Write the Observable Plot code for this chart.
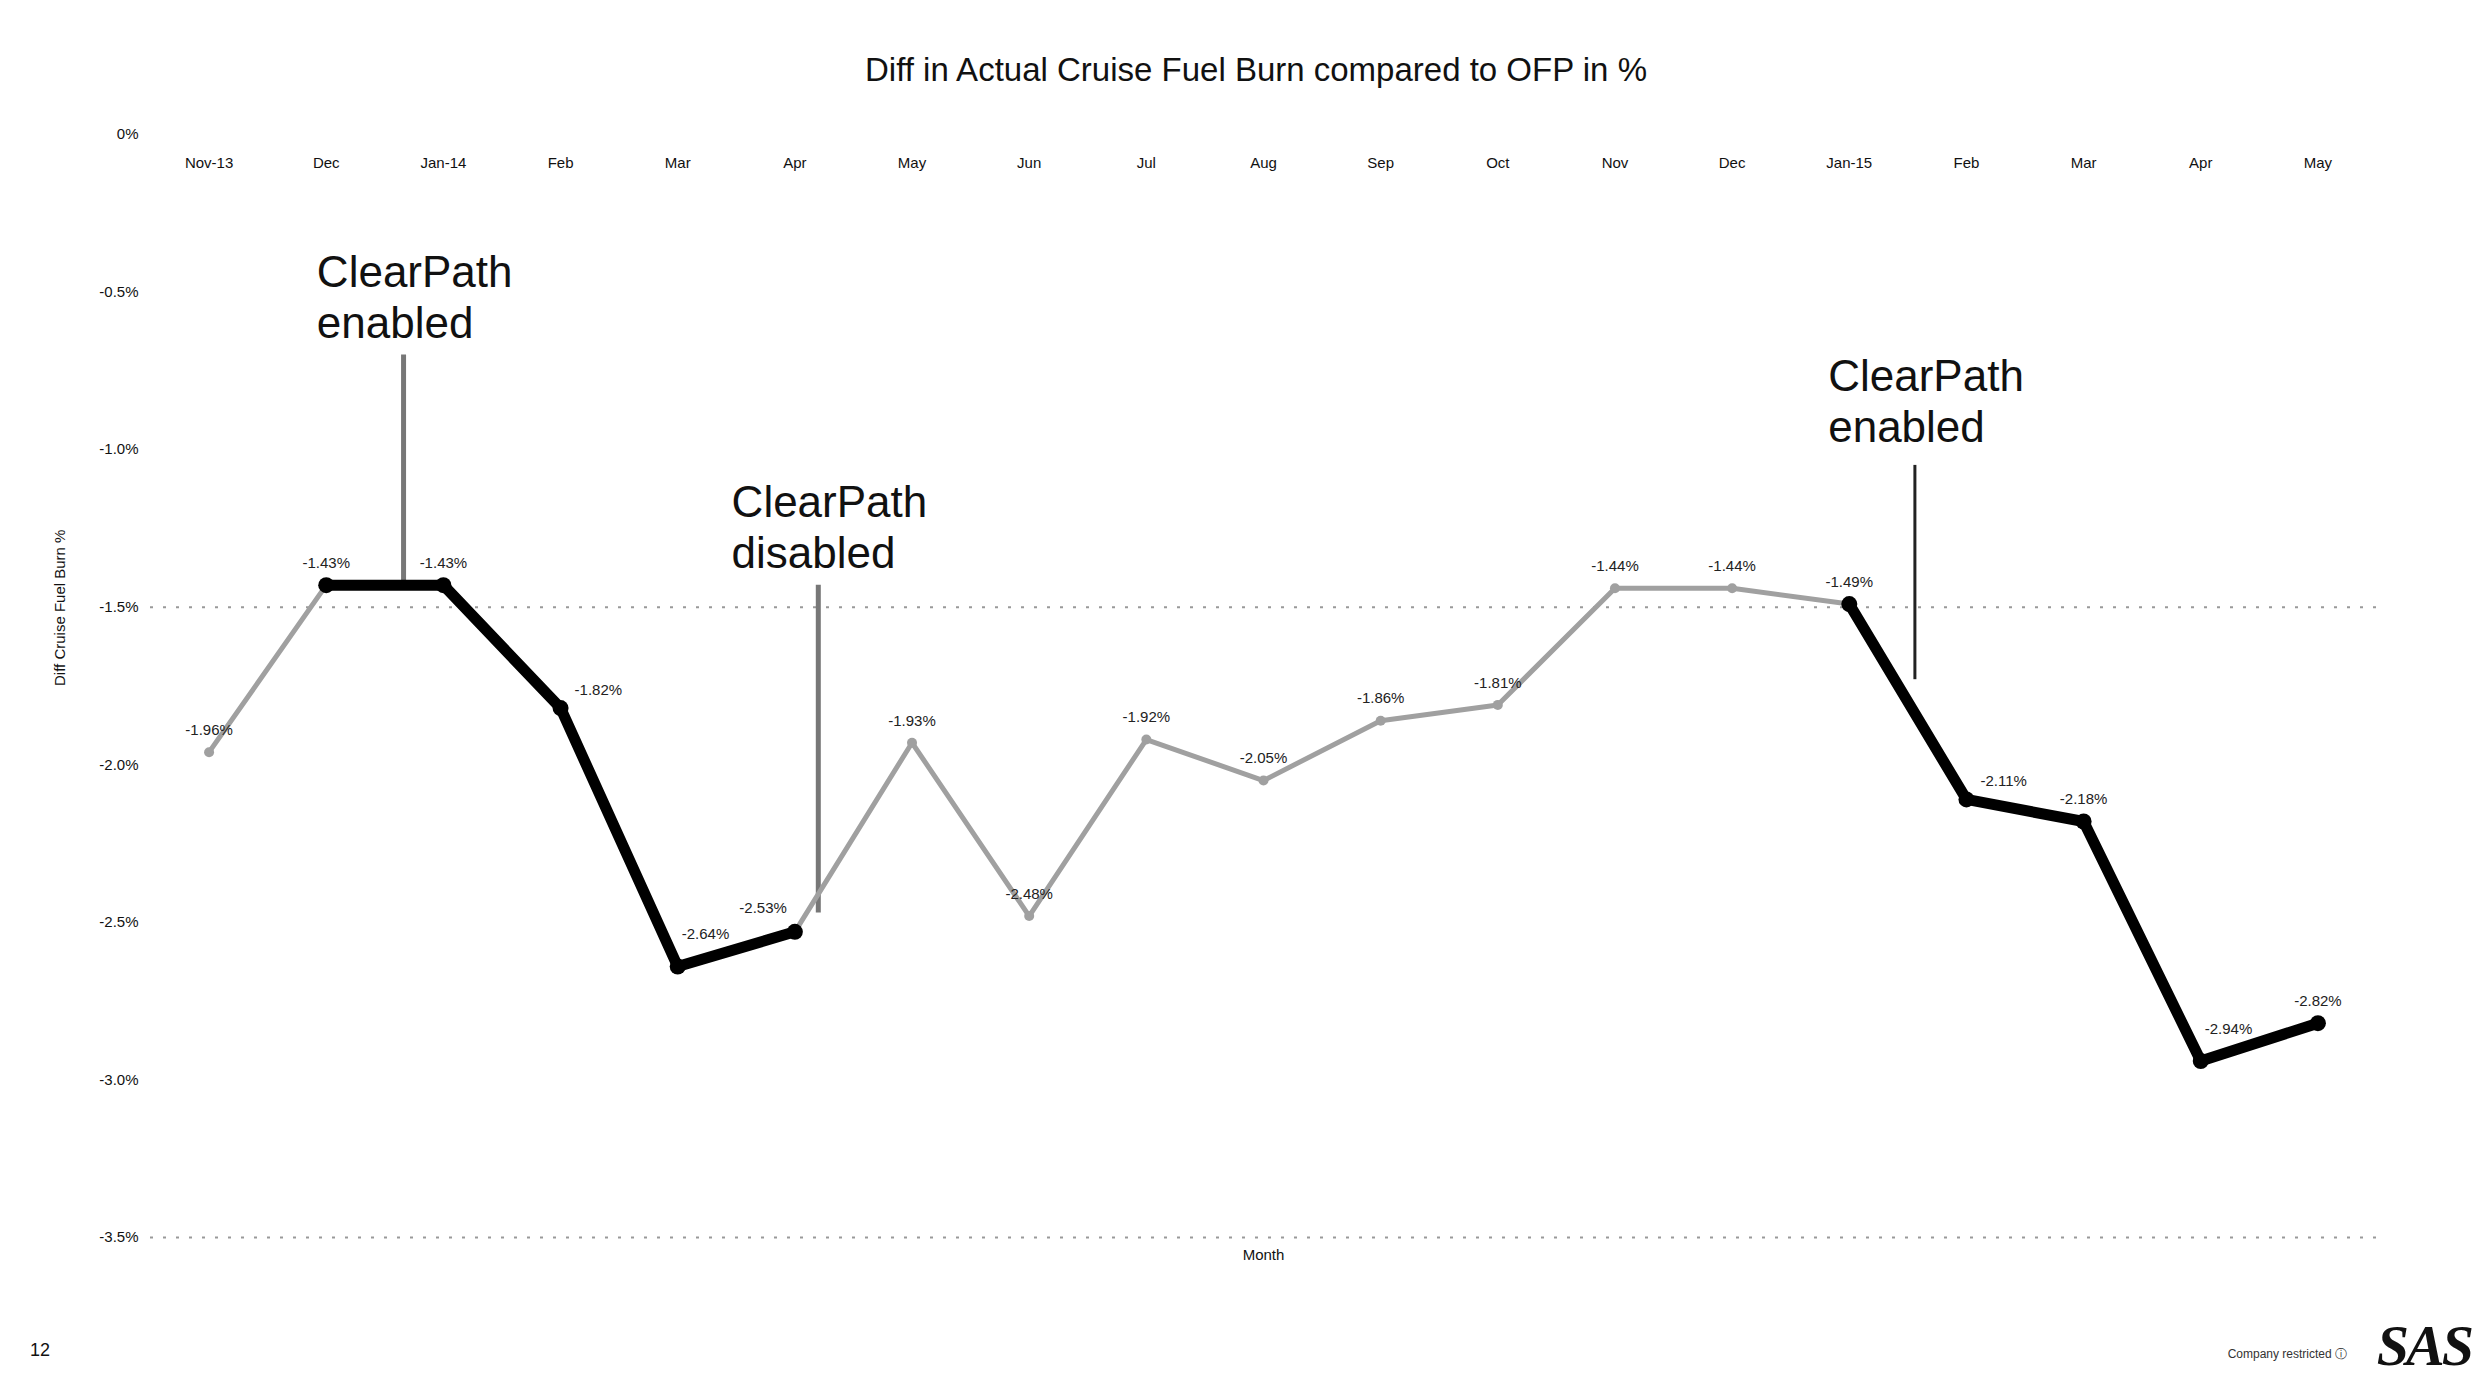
<!DOCTYPE html>
<html><head><meta charset="utf-8">
<script src="https://cdn.jsdelivr.net/npm/d3@7"></script>
<script src="https://cdn.jsdelivr.net/npm/@observablehq/plot@0.6"></script>
<style>
body{margin:0;background:#fff;font-family:"Liberation Sans",Arial,sans-serif;color:#111;}
#wrap{position:relative;width:2477px;height:1383px;overflow:hidden;}
#title{position:absolute;top:51px;left:0;width:2512px;text-align:center;font-size:33px;}
#chart{position:absolute;top:110px;left:0;}
#page{position:absolute;left:30px;top:1340px;font-size:18px;}
#restricted{position:absolute;right:130px;top:1346px;font-size:12px;color:#333;white-space:nowrap;}
#logo{position:absolute;right:6px;top:1312px;font-family:"Liberation Serif",serif;font-style:italic;font-weight:bold;font-size:58px;letter-spacing:-3px;}
</style></head>
<body><div id="wrap">
<div id="title">Diff in Actual Cruise Fuel Burn compared to OFP in %</div>
<div id="chart"></div>
<div id="page">12</div>
<div id="restricted">Company restricted ⓘ</div>
<div id="logo">SAS</div>
</div>
<script>
const months = ["Nov-13","Dec","Jan-14","Feb","Mar","Apr","May","Jun","Jul","Aug","Sep","Oct","Nov","Dec","Jan-15","Feb","Mar","Apr","May"];
const diffPct = [-1.96,-1.43,-1.43,-1.82,-2.64,-2.53,-1.93,-2.48,-1.92,-2.05,-1.86,-1.81,-1.44,-1.44,-1.49,-2.11,-2.18,-2.94,-2.82];
const clearPathSegment = [0,1,1,1,1,1,0,0,0,0,0,0,0,0,2,2,2,2,2];
const labelSide = [0,0,0,1,2,-1,0,0,0,0,0,0,0,0,0,1,0,2,0];
const yTicks = [0,-0.5,-1,-1.5,-2,-2.5,-3,-3.5];
const gridAt = [-1.5,-3.5];
const annText = ["ClearPath\nenabled","ClearPath\ndisabled","ClearPath\nenabled"];
const annTextX = [0.92,4.46,13.82];
const annTextY = [-0.37,-1.10,-0.70];
const annLineX = [1.66,5.2,14.56];
const annLineTop = [-0.70,-1.43,-1.05];
const annLineBottom = [-1.43,-2.47,-1.73];

const data = months.map((m,i)=>({i, m, v:diffPct[i], seg:clearPathSegment[i], side:labelSide[i]}));
const on = data.filter(d=>d.seg>0);
const ann = annText.map((t,k)=>({t, x:annTextX[k], y:annTextY[k], lx:annLineX[k], y1:annLineTop[k], y2:annLineBottom[k], k}));
const fmt = v => v===0 ? "0%" : d3.format(".1f")(v).replace("−","-")+"%";
const lab = d => d3.format(".2f")(d.v).replace("−","-")+"%";

const chart = Plot.plot({
  width:2477, height:1190,
  marginLeft:150, marginRight:101, marginTop:24, marginBottom:63,
  style:{fontFamily:"Liberation Sans, Arial, sans-serif", fontSize:"15px", background:"#fff"},
  x:{type:"linear", domain:[-0.5,18.5], axis:null},
  y:{domain:[-3.5,0], axis:null},
  marks:[
    Plot.ruleY(gridAt,{stroke:"#999", strokeWidth:2, strokeDasharray:"3,10"}),
    Plot.axisY(yTicks,{anchor:"left", tickSize:0, tickPadding:12, tickFormat:fmt, fontSize:15, label:null}),
    Plot.text(data,{x:"i", y:()=>0, text:"m", dy:29, fontSize:15}),
    Plot.text(["Diff Cruise Fuel Burn %"],{frameAnchor:"left", dx:-90, rotate:-90, fontSize:15}),
    Plot.text(["Month"],{frameAnchor:"bottom", dy:22, fontSize:15}),
    Plot.ruleX(ann.filter(d=>d.k<2),{x:"lx", y1:"y1", y2:"y2", stroke:"#777", strokeWidth:5}),
    Plot.ruleX(ann.filter(d=>d.k==2),{x:"lx", y1:"y1", y2:"y2", stroke:"#222", strokeWidth:3}),
    Plot.line(data,{x:"i", y:"v", stroke:"#a0a0a0", strokeWidth:5}),
    Plot.dot(data,{x:"i", y:"v", r:5, fill:"#a0a0a0"}),
    Plot.line(on,{x:"i", y:"v", z:"seg", stroke:"#000", strokeWidth:11, strokeLinejoin:"round"}),
    Plot.dot(on,{x:"i", y:"v", r:8, fill:"#000"}),
    Plot.text(data.filter(d=>d.side==0),{x:"i", y:"v", text:lab, dy:-22, fontSize:15, fill:"#222"}),
    Plot.text(data.filter(d=>d.side==1),{x:"i", y:"v", text:lab, dx:14, dy:-18, textAnchor:"start", fontSize:15, fill:"#222"}),
    Plot.text(data.filter(d=>d.side==2),{x:"i", y:"v", text:lab, dx:4, dy:-32, textAnchor:"start", fontSize:15, fill:"#222"}),
    Plot.text(data.filter(d=>d.side==-1),{x:"i", y:"v", text:lab, dx:-8, dy:-24, textAnchor:"end", fontSize:15, fill:"#222"}),
    Plot.text(ann,{x:"x", y:"y", text:"t", textAnchor:"start", lineAnchor:"top", fontSize:44, lineHeight:1.15, fill:"#111"})
  ]
});
document.getElementById("chart").appendChild(chart);
</script>
</body></html>
